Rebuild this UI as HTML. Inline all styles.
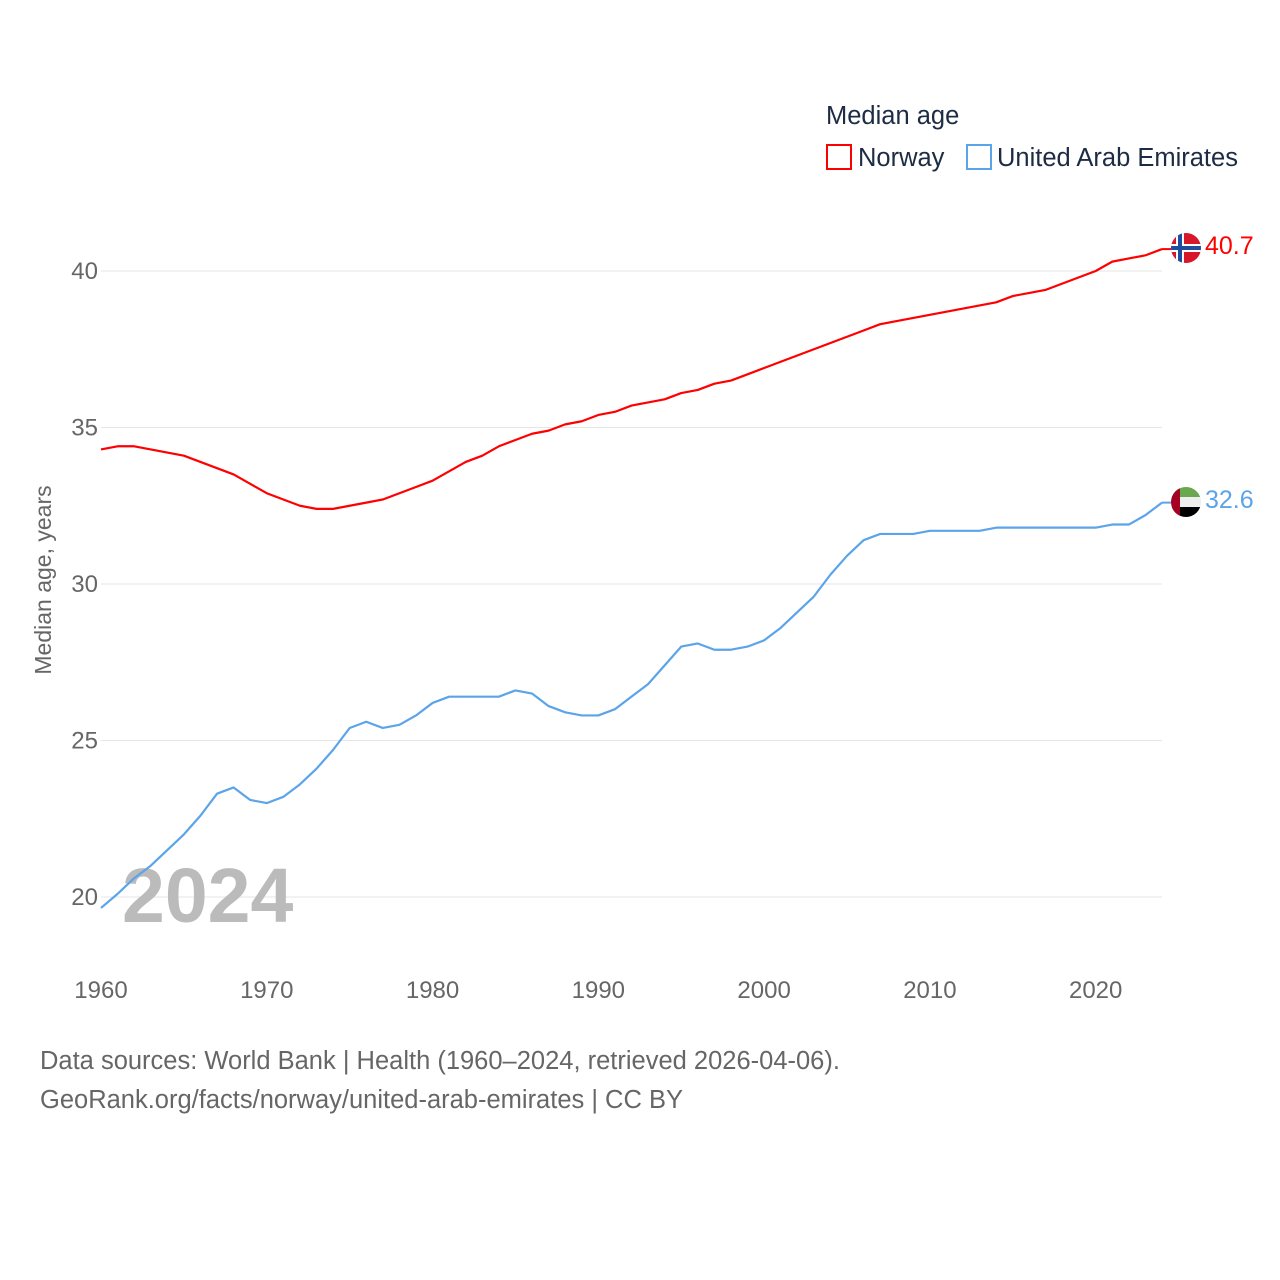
<!DOCTYPE html>
<html><head><meta charset="utf-8"><style>
body{margin:0;background:#fff;}
svg{display:block;font-family:"Liberation Sans",sans-serif;}
</style></head><body>
<svg id="chart" width="1280" height="1280" viewBox="0 0 1280 1280">
<defs>
<clipPath id="cn"><circle cx="1186" cy="248" r="15"/></clipPath>
<clipPath id="cu"><circle cx="1186" cy="502" r="15"/></clipPath>
</defs>
<g id="grid"></g>
<g id="yticks"></g>
<g id="xticks"></g>
<text transform="translate(51,580) rotate(-90)" text-anchor="middle" font-size="23" fill="#666">Median age, years</text>
<text x="122" y="922" font-size="77" font-weight="bold" fill="#bbb">2024</text>
<g id="series"></g>
<g clip-path="url(#cn)">
<rect x="1171" y="233" width="30" height="30" fill="#d7182a"/>
<rect x="1171" y="244" width="30" height="8" fill="#fff"/><rect x="1176" y="233" width="8" height="30" fill="#fff"/>
<rect x="1171" y="246" width="30" height="4" fill="#1f4c9c"/><rect x="1178" y="233" width="4" height="30" fill="#1f4c9c"/>
</g>
<g clip-path="url(#cu)">
<rect x="1171" y="487" width="30" height="10" fill="#6aa84f"/><rect x="1171" y="497" width="30" height="10" fill="#eee"/><rect x="1171" y="507" width="30" height="10" fill="#000"/><rect x="1171" y="487" width="9" height="30" fill="#a50021"/>
</g>
<text x="1205" y="254" font-size="25" fill="#ff0000">40.7</text>
<text x="1205" y="508" font-size="25" fill="#5ba4ea">32.6</text>
<g>
<text x="826" y="124" font-size="25.5" fill="#1d2b44">Median age</text>
<g><rect x="827" y="145" width="24" height="24" fill="none" stroke="#ff0000" stroke-width="2"/><text x="858" y="166" font-size="25.5" fill="#1d2b44">Norway</text></g>
<g><rect x="967" y="145" width="24" height="24" fill="none" stroke="#5ba4ea" stroke-width="2"/><text x="997" y="166" font-size="25.5" fill="#1d2b44">United Arab Emirates</text></g>
</g>
<text x="40" y="1069" font-size="25.5" fill="#666">Data sources: World Bank | Health (1960–2024, retrieved 2026-04-06).</text>
<text x="40" y="1108" font-size="25.5" fill="#666">GeoRank.org/facts/norway/united-arab-emirates | CC BY</text>
</svg>
<script>
const years=[];for(let y=1960;y<=2024;y++)years.push(y);
const norway=[34.3,34.4,34.4,34.3,34.2,34.1,33.9,33.7,33.5,33.2,32.9,32.7,32.5,32.4,32.4,32.5,32.6,32.7,32.9,33.1,33.3,33.6,33.9,34.1,34.4,34.6,34.8,34.9,35.1,35.2,35.4,35.5,35.7,35.8,35.9,36.1,36.2,36.4,36.5,36.7,36.9,37.1,37.3,37.5,37.7,37.9,38.1,38.3,38.4,38.5,38.6,38.7,38.8,38.9,39.0,39.2,39.3,39.4,39.6,39.8,40.0,40.3,40.4,40.5,40.7];
const uae=[19.65,20.1,20.6,21.0,21.5,22.0,22.6,23.3,23.5,23.1,23.0,23.2,23.6,24.1,24.7,25.4,25.6,25.4,25.5,25.8,26.2,26.4,26.4,26.4,26.4,26.6,26.5,26.1,25.9,25.8,25.8,26.0,26.4,26.8,27.4,28.0,28.1,27.9,27.9,28.0,28.2,28.6,29.1,29.6,30.3,30.9,31.4,31.6,31.6,31.6,31.7,31.7,31.7,31.7,31.8,31.8,31.8,31.8,31.8,31.8,31.8,31.9,31.9,32.2,32.6];
const yTicks=[20,25,30,35,40];
const xTicks=[1960,1970,1980,1990,2000,2010,2020];
const sx=y=>101+(y-1960)*(1162-101)/64;
const sy=v=>897-(v-20)*(897-271)/20;
const NS="http://www.w3.org/2000/svg";
function mk(t,a,p){const e=document.createElementNS(NS,t);for(const k in a)e.setAttribute(k,a[k]);p.appendChild(e);return e;}
const grid=document.getElementById('grid'),yt=document.getElementById('yticks'),xt=document.getElementById('xticks'),ser=document.getElementById('series');
yTicks.forEach(v=>{
 const l=mk('line',{x1:101,x2:1162,y1:sy(v),y2:sy(v),stroke:'#e6e6e6','stroke-width':1},grid);
 
 
 const t=mk('text',{x:98,y:sy(v)+8,'text-anchor':'end','font-size':24,fill:'#666'},yt);t.textContent=v;
 
 
});
xTicks.forEach(v=>{
 const t=mk('text',{x:sx(v),y:998,'text-anchor':'middle','font-size':24,fill:'#666'},xt);t.textContent=v;
 
 
});
function line(d,c,n){
 const p=mk('polyline',{points:d.map((v,i)=>sx(years[i])+','+sy(v)).join(' '),fill:'none',stroke:c,'stroke-width':2.2,'stroke-linejoin':'round'},ser);
 
 
 const e=mk('line',{x1:sx(years[years.length-1]),x2:1172,y1:sy(d[d.length-1]),y2:sy(d[d.length-1]),stroke:c,'stroke-width':2},ser);
 
 
}
line(uae,'#5ba4ea','uae-line');
line(norway,'#ff0000','norway-line');
</script>
</body></html>
